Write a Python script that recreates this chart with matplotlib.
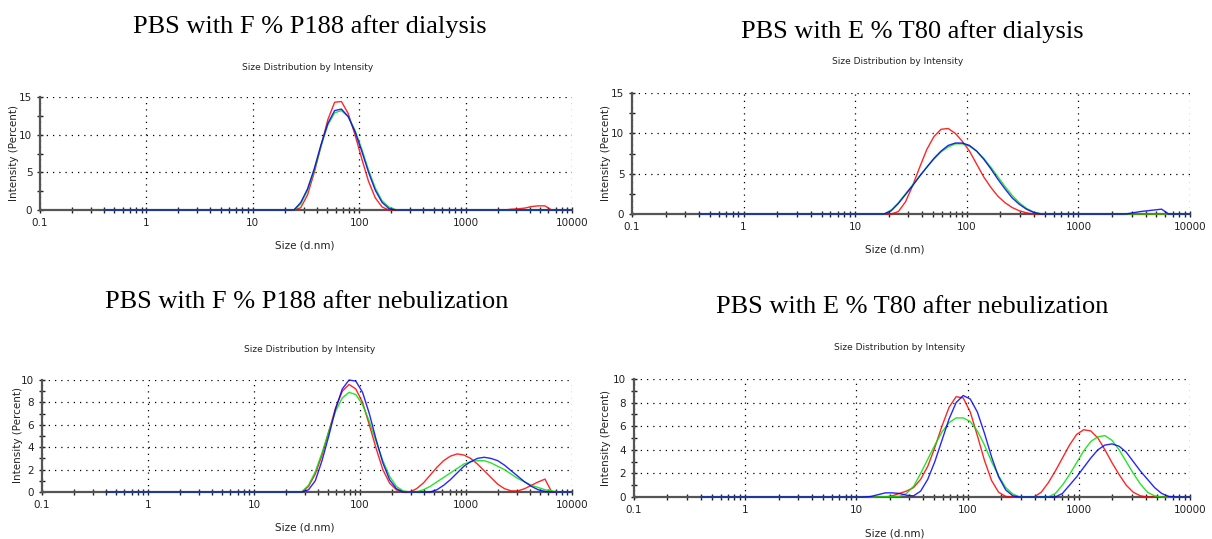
import matplotlib
matplotlib.use("Agg")
import matplotlib.pyplot as plt
from matplotlib.ticker import FixedLocator, NullFormatter

W, H = 1212, 539

# ---------------- data (size d.nm, intensity %) ----------------
# Panel 1: PBS with F % P188 after dialysis
p1_red_x = [0.4, 24.36, 28.21, 32.67, 37.84, 43.82, 50.75, 58.77, 68.06, 78.82, 91.28, 105.7, 122.4, 141.8, 164.2, 190.1,
            2305, 2669, 3091, 3580, 4145, 4801, 5560, 6439, 10000]
p1_red_y = [0, 0, 0.3, 2.0, 5.0, 8.5, 12.0, 14.3, 14.4, 12.8, 10.0, 6.8, 3.8, 1.6, 0.4, 0.0,
            0.0, 0.1, 0.15, 0.25, 0.45, 0.55, 0.55, 0.0, 0]
p1_green_x = [0.4, 24.36, 28.21, 32.67, 37.84, 43.82, 50.75, 58.77, 68.06, 78.82, 91.28, 105.7, 122.4, 141.8, 164.2,
              190.1, 220.2, 255.0, 10000]
p1_green_y = [0, 0, 0.8, 2.6, 5.3, 8.5, 11.3, 12.9, 13.2, 12.4, 10.6, 8.1, 5.3, 2.9, 1.2, 0.4, 0.05, 0, 0]
p1_blue_x = [0.4, 24.36, 28.21, 32.67, 37.84, 43.82, 50.75, 58.77, 68.06, 78.82, 91.28, 105.7, 122.4, 141.8, 164.2,
             190.1, 220.2, 10000]
p1_blue_y = [0, 0, 1.0, 2.8, 5.5, 8.7, 11.5, 13.2, 13.4, 12.4, 10.4, 7.8, 5.0, 2.6, 1.0, 0.2, 0, 0]

# Panel 2: PBS with E % T80 after dialysis
p2_red_x = [0.4, 21.04, 24.36, 28.21, 32.67, 37.84, 43.82, 50.75, 58.77, 68.06, 78.82, 91.28, 105.7, 122.4, 141.8,
            164.2, 190.1, 220.2, 255.0, 295.3, 342.0, 396.1, 10000]
p2_red_y = [0, 0, 0.3, 1.5, 3.5, 5.8, 8.0, 9.6, 10.5, 10.6, 10.0, 9.0, 7.8, 6.2, 4.6, 3.3, 2.2, 1.4, 0.8, 0.4, 0.15,
            0.0, 0]
p2_green_x = [0.4, 18.17, 21.04, 24.36, 28.21, 32.67, 37.84, 43.82, 50.75, 58.77, 68.06, 78.82, 91.28, 105.7, 122.4,
              141.8, 164.2, 190.1, 220.2, 255.0, 295.3, 342.0, 396.1, 458.7, 531.2, 10000]
p2_green_y = [0, 0, 0.5, 1.4, 2.5, 3.6, 4.7, 5.8, 6.8, 7.7, 8.3, 8.7, 8.7, 8.4, 7.8, 6.9, 5.8, 4.6, 3.4, 2.3, 1.4,
              0.7, 0.25, 0.05, 0, 0]
p2_blue_x = [0.4, 18.17, 21.04, 24.36, 28.21, 32.67, 37.84, 43.82, 50.75, 58.77, 68.06, 78.82, 91.28, 105.7, 122.4,
             141.8, 164.2, 190.1, 220.2, 255.0, 295.3, 342.0, 396.1, 458.7,
             2669, 3091, 3580, 4145, 4801, 5560, 6439, 10000]
p2_blue_y = [0, 0, 0.4, 1.3, 2.4, 3.5, 4.7, 5.8, 6.9, 7.8, 8.5, 8.8, 8.8, 8.5, 7.8, 6.8, 5.6, 4.3, 3.1, 2.0, 1.2,
             0.6, 0.2, 0.0,
             0.0, 0.15, 0.3, 0.4, 0.5, 0.6, 0.0, 0]

# Panel 3: PBS with F % P188 after nebulization
p3_red_x = [0.4, 28.21, 32.67, 37.84, 43.82, 50.75, 58.77, 68.06, 78.82, 91.28, 105.7, 122.4, 141.8, 164.2,
            190.1, 220.2, 255.0, 295.3, 342.0, 396.1, 458.7, 531.2, 615.1, 712.4, 825.0, 955.4, 1106, 1281, 1484,
            1718, 1990, 2305, 2669, 3091, 3580, 4145, 4801, 5560, 6439, 10000]
p3_red_y = [0, 0, 0.5, 1.6, 3.3, 5.4, 7.5, 9.0, 9.6, 9.2, 8.0, 6.0, 3.9, 2.0, 0.8, 0.2, 0, 0, 0.3, 0.8, 1.5,
            2.2, 2.8, 3.2, 3.4, 3.3, 3.0, 2.5, 1.9, 1.3, 0.7, 0.3, 0.1, 0.1, 0.3, 0.6, 0.9, 1.15, 0, 0]
p3_green_x = [0.4, 28.21, 32.67, 37.84, 43.82, 50.75, 58.77, 68.06, 78.82, 91.28, 105.7, 122.4, 141.8, 164.2,
              190.1, 220.2, 255.0, 295.3, 342.0, 396.1, 458.7, 531.2, 615.1, 712.4, 825.0, 955.4, 1106, 1281, 1484,
              1718, 1990, 2305, 2669, 3091, 3580, 4145, 4801, 5560, 6439, 7456, 10000]
p3_green_y = [0, 0, 0.6, 1.8, 3.5, 5.4, 7.2, 8.4, 8.9, 8.7, 7.8, 6.3, 4.5, 2.8, 1.4, 0.5, 0.1, 0, 0, 0.2, 0.5,
              0.9, 1.3, 1.7, 2.1, 2.5, 2.7, 2.8, 2.8, 2.6, 2.3, 2.0, 1.6, 1.2, 0.9, 0.6, 0.4, 0.2, 0.1, 0, 0]
p3_blue_x = [0.4, 28.21, 32.67, 37.84, 43.82, 50.75, 58.77, 68.06, 78.82, 91.28, 105.7, 122.4, 141.8, 164.2, 190.1,
             220.2, 255.0, 458.7, 531.2, 615.1, 712.4, 825.0, 955.4, 1106, 1281, 1484, 1718, 1990, 2305, 2669, 3091,
             3580, 4145, 4801, 5560, 6439, 10000]
p3_blue_y = [0, 0, 0.2, 1.0, 2.8, 5.0, 7.4, 9.2, 10.0, 9.9, 8.9, 7.0, 4.7, 2.6, 1.1, 0.3, 0, 0, 0.2, 0.6, 1.1, 1.7,
             2.3, 2.7, 3.0, 3.1, 3.0, 2.8, 2.4, 1.9, 1.4, 0.9, 0.5, 0.2, 0.05, 0, 0]

# Panel 4: PBS with E % T80 after nebulization
p4_red_x = [0.4, 18.17, 21.04, 24.36, 28.21, 32.67, 37.84, 43.82, 50.75, 58.77, 68.06, 78.82, 91.28, 105.7, 122.4,
            141.8, 164.2, 190.1, 220.2, 255.0, 396.1, 458.7, 531.2, 615.1, 712.4, 825.0, 955.4, 1106, 1281, 1484,
            1718, 1990, 2305, 2669, 3091, 3580, 4145, 10000]
p4_red_y = [0, 0, 0.1, 0.3, 0.5, 0.8, 1.5, 2.6, 4.2, 6.0, 7.6, 8.5, 8.4, 7.2, 5.2, 3.1, 1.4, 0.4, 0.05, 0, 0, 0.4,
            1.2, 2.2, 3.3, 4.4, 5.3, 5.7, 5.6, 5.0, 4.0, 2.9, 1.9, 1.0, 0.4, 0.1, 0, 0]
p4_green_x = [0.4, 13.54, 24.36, 28.21, 32.67, 37.84, 43.82, 50.75, 58.77, 68.06, 78.82,
              91.28, 105.7, 122.4, 141.8, 164.2, 190.1, 220.2, 255.0, 295.3, 531.2, 615.1, 712.4, 825.0, 955.4, 1106,
              1281, 1484, 1718, 1990, 2305, 2669, 3091, 3580, 4145, 4801, 5560, 10000]
p4_green_y = [0, 0, 0.05, 0.3, 0.9, 2.0, 3.2, 4.4, 5.5, 6.3, 6.7, 6.7, 6.4, 5.6, 4.4, 3.0, 1.8,
              0.8, 0.25, 0, 0, 0.3, 1.0, 1.9, 2.9, 3.9, 4.7, 5.1, 5.2, 4.8, 4.0, 3.0, 2.0, 1.1, 0.4, 0.1, 0, 0]
p4_blue_x = [0.4, 11.70, 13.54, 15.69, 18.17, 21.04, 24.36, 28.21, 32.67, 37.84, 43.82, 50.75, 58.77, 68.06, 78.82,
             91.28, 105.7, 122.4, 141.8, 164.2, 190.1, 220.2, 255.0, 295.3, 615.1, 712.4, 825.0, 955.4, 1106, 1281,
             1484, 1718, 1990, 2305, 2669, 3091, 3580, 4145, 4801, 5560, 6439, 7456, 10000]
p4_blue_y = [0, 0, 0.05, 0.2, 0.35, 0.35, 0.3, 0.15, 0.1, 0.5, 1.5, 3.0, 4.8, 6.6, 8.0, 8.6, 8.3, 7.2, 5.4, 3.4, 1.7,
             0.6, 0.1, 0, 0, 0.3, 1.0, 1.7, 2.5, 3.3, 4.0, 4.4, 4.5, 4.3, 3.8, 3.0, 2.2, 1.5, 0.8, 0.3, 0.05, 0, 0]

x_ticks = [0.1, 1, 10, 100, 1000, 10000]
x_tick_labels = ["0.1", "1", "10", "100", "1000", "10000"]

titles = ["PBS with F % P188 after dialysis", "PBS with E % T80 after dialysis",
          "PBS with F % P188 after nebulization", "PBS with E % T80 after nebulization"]
subtitle = "Size Distribution by Intensity"
xlabel = "Size (d.nm)"
ylabel = "Intensity (Percent)"

# ---------------- layout (pixels) ----------------
# axes: left, right, top, bottom
boxes = [(40, 572, 97, 210), (632, 1190, 93, 214), (42, 572, 380, 492), (634, 1190, 379, 497)]
title_pos = [(310, 27), (912, 32), (307, 302), (912, 307)]
sub_pos = [(308, 67), (898, 62), (310, 350), (900, 347)]
xl_pos = [(305, 245), (895, 250), (305, 527), (895, 533)]
yl_pos = [(14, 153), (606, 153), (18, 435), (606, 438)]
ymax = [15, 15, 10, 10]
ymajor = [[0, 5, 10, 15], [0, 5, 10, 15], [0, 2, 4, 6, 8, 10], [0, 2, 4, 6, 8, 10]]
yminor = [[2.5, 7.5, 12.5], [2.5, 7.5, 12.5], [1, 3, 5, 7, 9], [1, 3, 5, 7, 9]]

series = [
    [(p1_red_x, p1_red_y), (p1_green_x, p1_green_y), (p1_blue_x, p1_blue_y)],
    [(p2_red_x, p2_red_y), (p2_green_x, p2_green_y), (p2_blue_x, p2_blue_y)],
    [(p3_red_x, p3_red_y), (p3_green_x, p3_green_y), (p3_blue_x, p3_blue_y)],
    [(p4_red_x, p4_red_y), (p4_green_x, p4_green_y), (p4_blue_x, p4_blue_y)],
]
colors = ["#ff0000", "#00e000", "#0000ff"]

fig = plt.figure(figsize=(W / 100, H / 100), dpi=100)
fig.patch.set_facecolor("white")

minor_x = [m * 10.0 ** e for e in range(-1, 4) for m in range(2, 10)]

for i in range(4):
    l, r, t, b = boxes[i]
    ax = fig.add_axes([l / W, 1 - b / H, (r - l) / W, (b - t) / H])
    ax.set_xscale("log")
    ax.set_xlim(0.1, 10000)
    ax.set_ylim(0, ymax[i])
    for (xs, ys), c in zip(series[i], colors):
        ax.plot(xs, ys, color=c, lw=1.0, alpha=0.85, solid_joinstyle="round", zorder=3, clip_on=False)
    ax.xaxis.set_major_locator(FixedLocator(x_ticks))
    ax.set_xticklabels(x_tick_labels)
    ax.xaxis.set_minor_locator(FixedLocator(minor_x))
    ax.xaxis.set_minor_formatter(NullFormatter())
    ax.yaxis.set_major_locator(FixedLocator(ymajor[i]))
    ax.yaxis.set_minor_locator(FixedLocator(yminor[i]))
    ax.yaxis.set_minor_formatter(NullFormatter())
    for s in ["top", "right"]:
        ax.spines[s].set_visible(False)
    for s in ["left", "bottom"]:
        ax.spines[s].set_color("#555555")
        ax.spines[s].set_linewidth(1.6)
        ax.spines[s].set_zorder(2)
    ax.tick_params(axis="both", which="major", direction="inout", length=5, width=1.0, color="#222222",
                   labelsize=7.5, pad=3, labelcolor="#222222")
    ax.tick_params(axis="both", which="minor", direction="inout", length=4, width=1.0, color="#222222")
    ax.grid(True, which="major", color="#000000", linestyle=(0, (1, 4)), linewidth=0.9)
    ax.set_axisbelow(True)
    ax.set_facecolor("none")

    tx, ty = title_pos[i]
    fig.text(tx / W, 1 - ty / H, titles[i], ha="center", va="center", fontsize=19,
             family="Liberation Serif", color="black")
    sx, sy = sub_pos[i]
    fig.text(sx / W, 1 - sy / H, subtitle, ha="center", va="center", fontsize=6.5, color="#222222")
    xx, xy = xl_pos[i]
    fig.text(xx / W, 1 - xy / H, xlabel, ha="center", va="center", fontsize=7.5, color="#222222")
    yx, yy = yl_pos[i]
    fig.text(yx / W, 1 - yy / H, ylabel, ha="center", va="center", rotation=90, fontsize=7.5, color="#222222")

fig.savefig("out.png", dpi=100, facecolor="white")
